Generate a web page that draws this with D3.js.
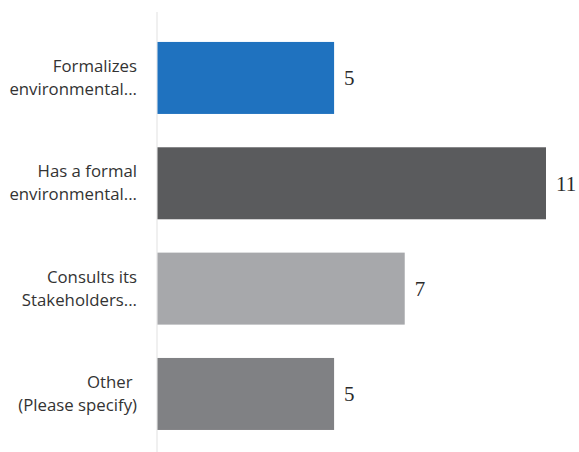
<!DOCTYPE html>
<html>
<head>
<meta charset="utf-8">
<script src="https://cdn.jsdelivr.net/npm/d3@7"></script>
<style>
  html, body { margin: 0; padding: 0; background: #fff; }
  svg { display: block; }
</style>
</head>
<body>
<svg id="chart" width="579" height="452"></svg>
<script>
// Survey answers, one bar per option
const categories = [
  ["Formalizes", "environmental..."],
  ["Has a formal", "environmental..."],
  ["Consults its", "Stakeholders..."],
  ["Other ", "(Please specify)"]
];
const values = [5, 11, 7, 5];
const barColors = ["#1f72bf", "#5a5b5d", "#a7a8ab", "#808184"];

const svg = d3.select("#chart");
const keys = categories.map((c, i) => i);

const x = d3.scaleLinear().domain([0, 11]).range([157.5, 546]);
const y = d3.scaleBand().domain(keys).range([25.3, 446.6])
  .paddingInner(0.3165).paddingOuter(0.158);

// baseline rule
svg.append("line")
  .attr("x1", 157).attr("x2", 157)
  .attr("y1", 12).attr("y2", 452)
  .attr("stroke", "#e6e6e6").attr("stroke-width", 1.2);

svg.selectAll("rect.bar").data(values).join("rect")
  .attr("class", "bar")
  .attr("x", x(0))
  .attr("y", (d, i) => y(i))
  .attr("width", d => x(d) - x(0))
  .attr("height", y.bandwidth())
  .attr("fill", (d, i) => barColors[i]);

// value labels
svg.selectAll("text.val").data(values).join("text")
  .attr("class", "val")
  .attr("x", d => x(d) + 10)
  .attr("y", (d, i) => y(i) + y.bandwidth() / 2)
  .attr("dy", "0.35em")
  .attr("font-family", "'Liberation Serif', serif")
  .attr("font-size", 21)
  .attr("fill", "#2a2a2a")
  .text(d => d);

// category labels, two lines each
const lab = svg.selectAll("text.cat").data(categories).join("text")
  .attr("class", "cat")
  .attr("text-anchor", "end")
  .attr("font-family", "'Open Sans', sans-serif")
  .attr("font-size", 16.8)
  .attr("fill", "#333")
  .style("white-space", "pre");
lab.each(function(lines, i) {
  const cy = y(i) + y.bandwidth() / 2;
  d3.select(this).selectAll("tspan").data(lines).join("tspan")
    .attr("x", 137)
    .attr("y", (d, j) => cy - 6 + j * 23)
    .text(d => d);
});
</script>
</body>
</html>
